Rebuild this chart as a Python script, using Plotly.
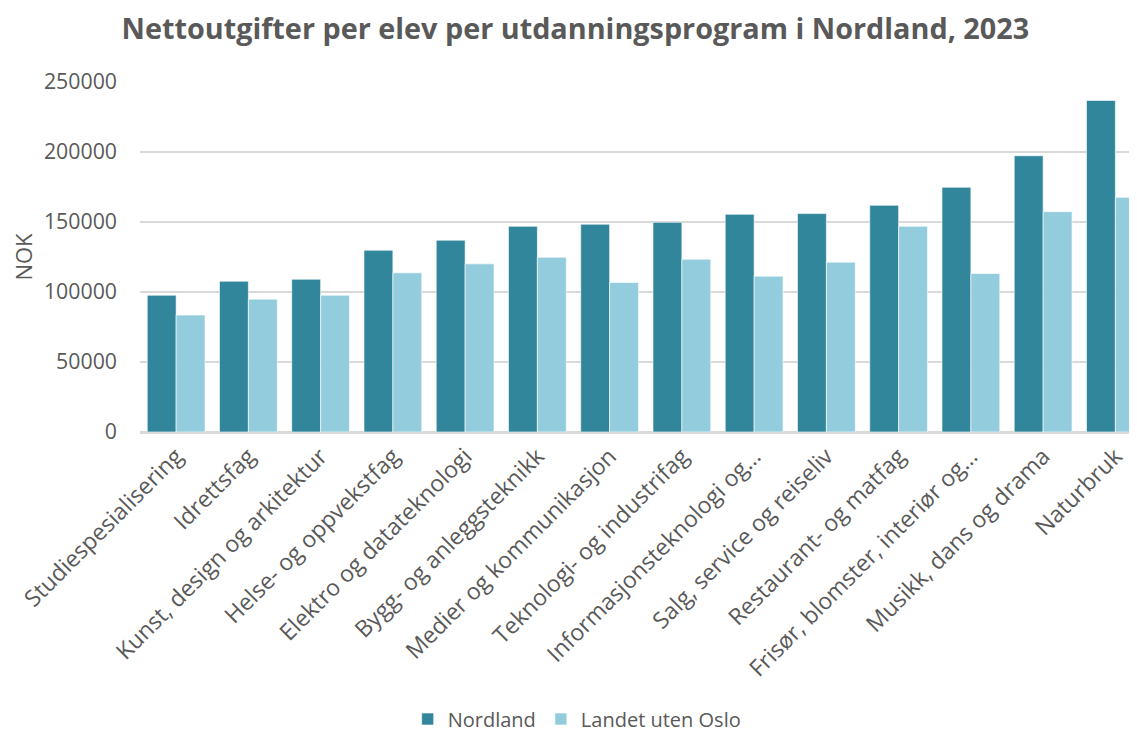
import plotly.graph_objects as go

categories = [
    "Studiespesialisering",
    "Idrettsfag",
    "Kunst, design og arkitektur",
    "Helse- og oppvekstfag",
    "Elektro og datateknologi",
    "Bygg- og anleggsteknikk",
    "Medier og kommunikasjon",
    "Teknologi- og industrifag",
    "Informasjonsteknologi og…",
    "Salg, service og reiseliv",
    "Restaurant- og matfag",
    "Frisør, blomster, interiør og…",
    "Musikk, dans og drama",
    "Naturbruk",
]
nordland = [97700, 107700, 109100, 129800, 137000, 146900, 148400,
            149800, 155500, 156000, 161900, 174800, 197300, 236800]
landet_uten_oslo = [83500, 94900, 97700, 113700, 120100, 124800, 106800,
                    123400, 111300, 121300, 146900, 113200, 157400, 167600]

text_color = "#595959"
font_family = "Open Sans, Noto Sans, sans-serif"

fig = go.Figure()
fig.add_trace(go.Bar(
    x=categories, y=nordland, name="Nordland",
    marker=dict(color="#31869B", line=dict(color="rgba(255,255,255,0.6)", width=1)),
))
fig.add_trace(go.Bar(
    x=categories, y=landet_uten_oslo, name="Landet uten Oslo",
    marker=dict(color="#93CDDD", line=dict(color="rgba(255,255,255,0.6)", width=1)),
))

fig.update_layout(
    width=1137, height=734,
    margin=dict(l=132, r=0, t=74, b=310, autoexpand=False),
    paper_bgcolor="white", plot_bgcolor="white",
    barmode="group", bargap=0.2, bargroupgap=0,
    font=dict(family=font_family, size=22, color=text_color),
    title=dict(
        text="<b>Nettoutgifter per elev per utdanningsprogram i Nordland, 2023</b>",
        x=0.499, xanchor="center", y=0.972, yanchor="middle",
        font=dict(family=font_family, size=28.8, color=text_color),
    ),
    legend=dict(
        orientation="h", x=0.435, xanchor="center", y=-0.82, yanchor="middle",
        font=dict(size=20, color=text_color), itemwidth=30,
    ),
    showlegend=True,
)
fig.update_xaxes(
    tickangle=-45, range=[-0.5, 13.41], showgrid=False, automargin=False,
    showline=True, linecolor="#D9D9D9", linewidth=1.5,
    tickfont=dict(size=23, color=text_color),
)
fig.update_yaxes(
    range=[0, 250000], dtick=50000, tickformat="d", automargin=False,
    showgrid=True, gridcolor="#D9D9D9", gridwidth=1.5,
    zeroline=True, zerolinecolor="#D9D9D9", zerolinewidth=1.5,
    tickfont=dict(size=21.3, color=text_color), ticklabelstandoff=22,
    title=dict(text="NOK", font=dict(size=22, color=text_color), standoff=8),
)

fig.write_html("out.html")
